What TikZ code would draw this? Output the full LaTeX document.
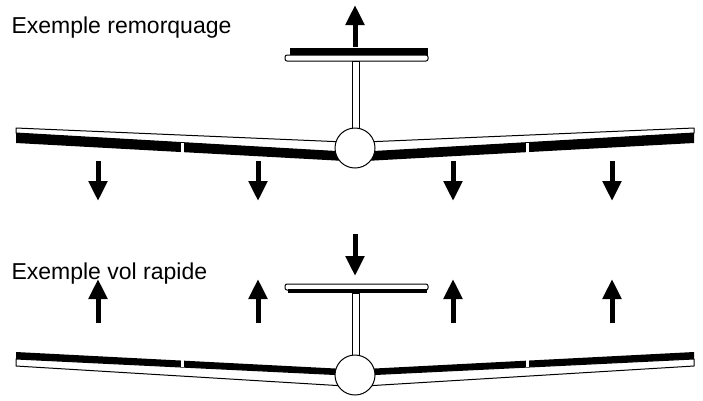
\documentclass[tikz,border=0pt]{standalone}
\usepackage{fontspec}
\setmainfont{Liberation Sans}
\usetikzlibrary{arrows.meta}

\begin{document}
\begin{tikzpicture}[x=1pt,y=-1pt,
		force/.style={line width=5pt,-{Triangle[width=18pt,length=20pt]}},
		skin/.style={draw=black,line width=1pt,fill=white,line join=round}]
		\useasboundingbox (0,0) rectangle (703,400);
		% top : remorquage
		\node [anchor=base west,font=\fontsize{23}{26}\selectfont] (t1) at (8,33) {Exemple remorquage};
		\draw [skin] (16,128) -- (345,142) -- (345,152) -- (16,133) -- cycle;
		\fill [black] (16,133) -- (345,152) -- (345,161) -- (16,143) -- cycle;
		\draw [skin] (694,128) -- (365,142) -- (365,152) -- (694,133) -- cycle;
		\fill [black] (694,133) -- (365,152) -- (365,161) -- (694,143) -- cycle;
		\fill [white] (181,142.5) rectangle (184,156);
		\fill [white] (526,142.5) rectangle (529,156);
		\fill [black] (290,48) rectangle (428,56);
		\draw [skin,rounded corners=2pt] (285,55) rectangle (428,61);
		\draw [skin] (352,61) rectangle (359,130);
		\node [skin,circle,minimum size=40pt,inner sep=0pt] (f1) at (355,148) {};
		\draw [force] (355,47) -- (355,5);
		\foreach \x in {98,258,453,612}
			\draw [force] (\x,161) -- (\x,201);
		% bottom : vol rapide
		\node [anchor=base west,font=\fontsize{23}{26}\selectfont] (t2) at (8,279) {Exemple vol rapide};
		\fill [black] (16,352) -- (345,369) -- (345,375) -- (16,359) -- cycle;
		\draw [skin] (16,359) -- (345,375) -- (345,386) -- (16,366) -- cycle;
		\fill [black] (694,352) -- (365,369) -- (365,375) -- (694,359) -- cycle;
		\draw [skin] (694,359) -- (365,375) -- (365,386) -- (694,366) -- cycle;
		\fill [white] (181,359) rectangle (184,366.5);
		\fill [white] (526,359) rectangle (529,366.5);
		\draw [skin,rounded corners=2pt] (285,284) rectangle (428,290);
		\fill [black] (288,289) rectangle (427,293);
		\draw [skin] (352,293) rectangle (359,357);
		\node [skin,circle,minimum size=40pt,inner sep=0pt] (f2) at (355,375) {};
		\draw [force] (355,234) -- (355,276);
		\foreach \x in {98,258,453,612}
			\draw [force] (\x,323) -- (\x,279);
\end{tikzpicture}
\end{document}
